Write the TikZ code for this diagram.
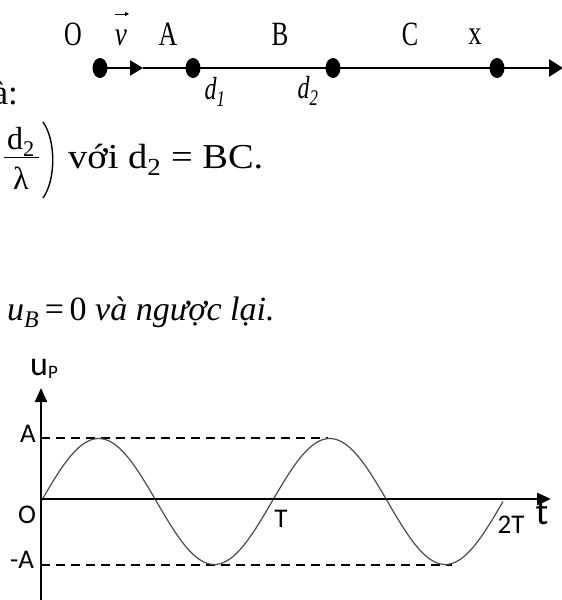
\documentclass[tikz,border=0pt]{standalone}
\usepackage{fontspec}
\setmainfont{Liberation Serif}
\newfontfamily\calib{Carlito}
\usetikzlibrary{arrows.meta,shapes.geometric}
\begin{document}
\begin{tikzpicture}[x=1pt,y=-1pt,
  pt/.style={ellipse,fill=black,minimum width=15pt,minimum height=20pt,inner sep=0pt},
  toplab/.style={inner sep=0pt,font=\fontsize{34}{36}\selectfont},
  dlab/.style={inner sep=0pt,font=\fontsize{32}{34}\selectfont\itshape},
  body/.style={inner sep=0pt,font=\fontsize{35}{40}\selectfont},
  fr/.style={inner sep=0pt,font=\fontsize{32}{34}\selectfont},
  axis/.style={line width=2.2pt,-{Triangle[length=14pt,width=12pt]}},
  guide/.style={line width=1.2pt,dash pattern=on 9pt off 6pt},
  wave/.style={line width=1.2pt,color=black!70},
  glab/.style={inner sep=0pt,font=\calib\fontsize{27}{28}\selectfont}]
\useasboundingbox (0,0) rectangle (562,600);
\clip (0,0) rectangle (562,600);

% ---------- top line ----------
\node[pt] (O) at (100,68) {};
\node[pt] (A) at (193,68) {};
\node[pt] (B) at (333,68) {};
\node[pt] (X) at (497,68) {};
\coordinate (vtip) at (143,68);
\coordinate (xend) at (563,68);
\draw[line width=2pt,-{Triangle[length=13pt,width=15pt]}] (O.center) -- (vtip);
\draw[line width=2pt] (vtip) -- (A.center) -- (B.center);
\draw[line width=2.8pt] (B.center) -- (X.center);
\draw[line width=2.8pt,-{Triangle[length=14pt,width=17pt]}] (X.center) -- (xend);

\node[toplab] (lO) at (73,34) {\scalebox{0.72}[1]{O}};
\node[toplab,font=\fontsize{34}{36}\selectfont\itshape] (lv) at (121,38) {\scalebox{0.8}[1]{v}};
\coordinate (va1) at (115,14);
\coordinate (va2) at (129,14);
\draw[line width=1pt,-{Triangle[length=4pt,width=4pt]}] (va1) -- (va2);
\node[toplab] (lA) at (168,34) {\scalebox{0.76}[1]{A}};
\node[toplab] (lB) at (280,34) {\scalebox{0.74}[1]{B}};
\node[toplab] (lC) at (410,34) {\scalebox{0.72}[1]{C}};
\node[toplab] (lx) at (475,37) {\scalebox{0.78}[1]{x}};
\node[dlab] (d1) at (215,92) {\scalebox{0.75}[1]{d\textsubscript{1}}};
\node[dlab] (d2) at (308,91) {\scalebox{0.75}[1]{d\textsubscript{2}}};

% ---------- text ----------
\node[body,anchor=base east] (la) at (18,104) {à:};
\node[fr] (num) at (21,142) {d\textsubscript{2}};
\coordinate (fb1) at (4,157);
\coordinate (fb2) at (39,157);
\draw[line width=1pt] (fb1) -- (fb2);
\node[fr] (den) at (21,178) {λ};
\coordinate (p1) at (43,122);
\coordinate (pc1) at (56,140);
\coordinate (pc2) at (56,180);
\coordinate (p2) at (43,198);
\draw[line width=1.4pt] (p1) .. controls (pc1) and (pc2) .. (p2);
\node[body,anchor=base west] (eq) at (68,168)
  {\scalebox{1.1}[1]{với d\textsubscript{2} = BC.}};
\node[body,anchor=base west,font=\fontsize{34}{40}\selectfont] (ub) at (7,320)
  {\textit{u}\textsubscript{\textit{B}}\,=\,0 \textit{và ngược lại.}};

% ---------- graph ----------
\coordinate (o) at (41,499);
\coordinate (ytop) at (41,388);
\coordinate (ybot) at (41,600);
\coordinate (xtip) at (551,499);
\coordinate (pa) at (41,438);
\coordinate (pae) at (328,438);
\coordinate (ma) at (41,565);
\coordinate (mae) at (452,565);
\draw[guide] (pa) -- (pae);
\draw[guide] (ma) -- (mae);
\draw[wave] plot[domain=41:503,samples=160] (\x,{501.5-63*sin(1.5584*(\x-41))});
\draw[axis] (ybot) -- (ytop);
\draw[axis,line width=2.8pt] (o) -- (xtip);

\node[inner sep=0pt] (up) at (44,369) {\calib\fontsize{34}{34}\selectfont u\raisebox{-3pt}{\fontsize{19}{19}\selectfont P}};
\node[glab] (gA) at (28,434) {A};
\node[glab] (gO) at (27,515) {O};
\node[glab] (gmA) at (22,560) {-A};
\node[glab] (gT) at (281,519) {T};
\node[glab] (g2T) at (511,525) {2T};
\node[glab,font=\calib\fontsize{38}{38}\selectfont] (gt) at (542,513) {t};
\end{tikzpicture}
\end{document}
